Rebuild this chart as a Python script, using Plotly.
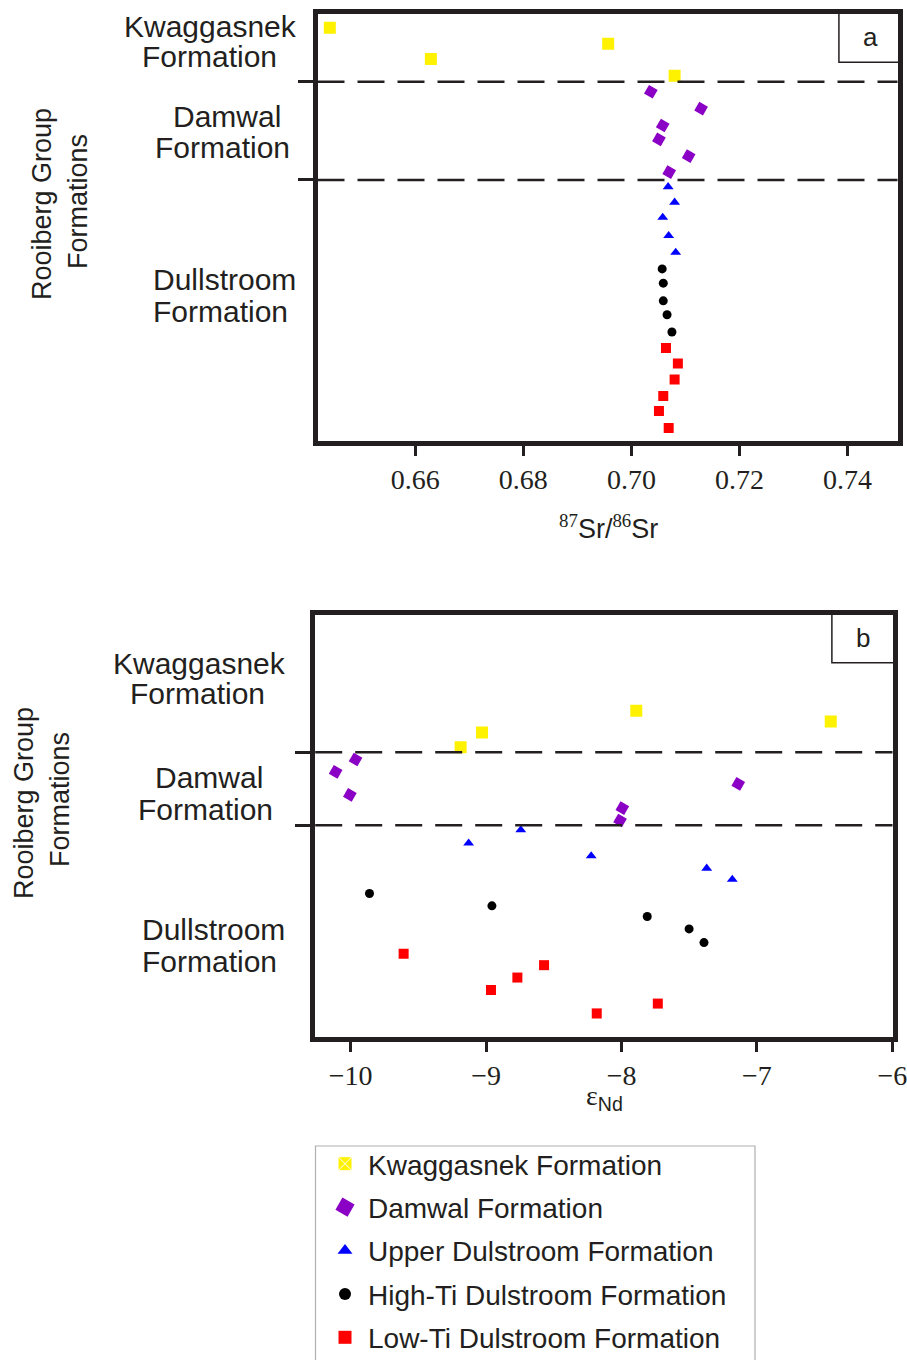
import plotly.graph_objects as go

W, H = 907, 1360
INK = "#231f20"
SANS = "Liberation Sans, Arial, sans-serif"
SERIF = "Liberation Serif, Times New Roman, serif"

# ---------------- panel a : 87Sr/86Sr vs. relative stratigraphic position ----------------
sr_kwa = [0.6442, 0.6629, 0.6957, 0.7080]
pos_a_kwa = [96.1, 88.9, 92.4, 85.0]
sr_dam = [0.7036, 0.7129, 0.7058, 0.7051, 0.7106, 0.7070]
pos_a_dam = [81.3, 77.4, 73.5, 70.3, 66.4, 62.7]
sr_upd = [0.7068, 0.7080, 0.7058, 0.7069, 0.7082]
pos_a_upd = [59.3, 55.7, 52.2, 48.0, 44.1]
sr_hti = [0.7057, 0.7059, 0.7059, 0.7066, 0.7075]
pos_a_hti = [40.3, 37.0, 32.9, 29.7, 25.7]
sr_lti = [0.7064, 0.7086, 0.7080, 0.7059, 0.7051, 0.7069]
pos_a_lti = [22.0, 18.4, 14.7, 10.9, 7.4, 3.5]
bounds_a = [83.6, 60.9]          # Kwaggasnek/Damwal and Damwal/Dullstroom contacts
ticks_a = [0.66, 0.68, 0.70, 0.72, 0.74]

# ---------------- panel b : eNd vs. relative stratigraphic position ----------------
nd_kwa = [-9.188, -9.030, -7.891, -6.455]
pos_b_kwa = [68.4, 71.8, 76.9, 74.4]
nd_dam = [-9.964, -10.111, -10.006, -7.994, -8.011, -7.138]
pos_b_dam = [65.5, 62.6, 57.2, 54.1, 51.2, 59.8]
nd_upd = [-9.129, -8.744, -8.224, -7.371, -7.182]
pos_b_upd = [45.9, 49.0, 42.9, 40.0, 37.4]
nd_hti = [-9.861, -8.957, -7.810, -7.501, -7.391]
pos_b_hti = [34.1, 31.2, 28.7, 25.8, 22.6]
nd_lti = [-9.609, -8.964, -8.769, -8.572, -8.183, -7.732]
pos_b_lti = [20.0, 11.5, 14.4, 17.3, 6.0, 8.3]
bounds_b = [67.2, 50.1]
ticks_b = [-10, -9, -8, -7, -6]

series_names = ["Kwaggasnek Formation", "Damwal Formation", "Upper Dulstroom Formation",
                "High-Ti Dulstroom Formation", "Low-Ti Dulstroom Formation"]
formation_labels = [("Kwaggasnek", "Formation"), ("Damwal", "Formation"), ("Dullstroom", "Formation")]

colors = ["#fff200", "#8a00c4", "#0000ff", "#000000", "#ff0000"]
symbols = ["square", "square", "triangle-up", "circle", "square"]
angles = [0, 30, 0, 0, 0]
sizes = [12, 10, 9.5, 9, 10]

panel_a = [(sr_kwa, pos_a_kwa), (sr_dam, pos_a_dam), (sr_upd, pos_a_upd),
           (sr_hti, pos_a_hti), (sr_lti, pos_a_lti)]
panel_b = [(nd_kwa, pos_b_kwa), (nd_dam, pos_b_dam), (nd_upd, pos_b_upd),
           (nd_hti, pos_b_hti), (nd_lti, pos_b_lti)]


def px(x):
    return x / W


def py(y):
    return 1 - y / H


fig = go.Figure()

for i, name in enumerate(series_names):
    mk = dict(color=colors[i], symbol=symbols[i], size=sizes[i], angle=angles[i], line=dict(width=0))
    xa, ya = panel_a[i]
    fig.add_trace(go.Scatter(x=xa, y=ya, mode="markers", marker=mk, name=name,
                             showlegend=False, xaxis="x", yaxis="y", hoverinfo="skip"))
    xb, yb = panel_b[i]
    fig.add_trace(go.Scatter(x=xb, y=yb, mode="markers", marker=mk, name=name,
                             showlegend=False, xaxis="x2", yaxis="y2", hoverinfo="skip"))

# legend keys
legend_markers = [
    dict(color=colors[0], symbol="square-x", size=14, line=dict(color="white", width=1)),
    dict(color=colors[1], symbol="square", size=14, angle=30, line=dict(width=0)),
    dict(color=colors[2], symbol="triangle-up", size=13, line=dict(width=0)),
    dict(color=colors[3], symbol="circle", size=12, line=dict(width=0)),
    dict(color=colors[4], symbol="square", size=13, line=dict(width=0)),
]
for i, name in enumerate(series_names):
    fig.add_trace(go.Scatter(x=[None], y=[None], mode="markers", marker=legend_markers[i],
                             name=name, legendgroup=f"g{i}", showlegend=True,
                             xaxis="x", yaxis="y"))

# plot-area geometry (pixels)
A = dict(l=317.5, r=897.5, t=13.5, b=440.5)
B = dict(l=315.2, r=892.5, t=614.8, b=1036.5)

frame = dict(showline=True, linecolor=INK, linewidth=5, mirror=True, showgrid=False,
             zeroline=False)

fig.update_layout(
    width=W, height=H,
    margin=dict(l=0, r=0, t=0, b=0, autoexpand=False),
    paper_bgcolor="white", plot_bgcolor="white",
    font=dict(family=SANS, color=INK),
    xaxis=dict(domain=[px(A["l"]), px(A["r"])], range=[0.64192, 0.74924],
               tickvals=ticks_a, tickformat=".2f", ticks="outside", ticklen=10,
               tickwidth=2.5, tickcolor=INK, ticklabelstandoff=0,
               tickfont=dict(family=SERIF, size=28, color=INK), anchor="y", **frame),
    yaxis=dict(domain=[py(A["b"]), py(A["t"])], range=[0.579, 99.42],
               tickvals=bounds_a, ticks="outside", ticklen=15, tickwidth=2.5,
               tickcolor=INK, showticklabels=False, anchor="x", **frame),
    xaxis2=dict(domain=[px(B["l"]), px(B["r"])], range=[-10.262, -5.999],
                tickvals=ticks_b, tickformat="d", ticks="outside", ticklen=10,
                tickwidth=2.5, tickcolor=INK, ticklabelstandoff=0,
                ticklabeloverflow="allow",
                tickfont=dict(family=SERIF, size=28, color=INK), anchor="y2", **frame),
    yaxis2=dict(domain=[py(B["b"]), py(B["t"])], range=[0.586, 99.41],
                tickvals=bounds_b, ticks="outside", ticklen=15, tickwidth=2.5,
                tickcolor=INK, showticklabels=False, anchor="x2", **frame),
    legend=dict(x=px(322), y=py(1139), xanchor="left", yanchor="top",
                borderwidth=0, bgcolor="rgba(0,0,0,0)",
                font=dict(family=SANS, size=28, color=INK), tracegroupgap=4,
                itemwidth=36, itemsizing="trace"),
)

shapes = []
for ax, bounds in (("", bounds_a), ("2", bounds_b)):
    for yv in bounds:
        shapes.append(dict(type="line", xref=f"x{ax} domain", yref=f"y{ax}",
                           x0=0, x1=1, y0=yv, y1=yv,
                           line=dict(color=INK, width=2.5, dash="27px,13px")))
# panel letter boxes
shapes.append(dict(type="rect", xref="x domain", yref="y domain",
                   x0=0.899, x1=1.004, y0=0.886, y1=1.004,
                   line=dict(color=INK, width=1.5)))
shapes.append(dict(type="rect", xref="x2 domain", yref="y2 domain",
                   x0=0.895, x1=1.004, y0=0.886, y1=1.004,
                   line=dict(color=INK, width=1.5)))
# legend frame (runs off the bottom edge)
shapes.append(dict(type="rect", xref="paper", yref="paper",
                   x0=px(315.5), x1=px(755), y0=py(1146), y1=py(1375),
                   line=dict(color="#b0b0b0", width=1.2)))
fig.update_layout(shapes=shapes)

ann = []


def text(x, y, s, size=30, family=SANS, angle=0):
    ann.append(dict(x=px(x), y=py(y), xref="paper", yref="paper", text=s, showarrow=False,
                    xanchor="center", yanchor="middle", textangle=angle,
                    font=dict(family=family, size=size, color=INK)))


# formation labels beside each panel
lab_a = [((210.5, 24.2), (209, 55)), ((226.7, 114), (222.8, 145.3)), ((224, 278), (220, 309.5))]
lab_b = [((199.2, 661.0), (197.5, 691.0)), ((209.2, 775.0), (205.8, 807.0)), ((213, 927.0), (209.2, 959.0))]
for pos_set in (lab_a, lab_b):
    for (l1, l2), (t1, t2) in zip(pos_set, formation_labels):
        text(l1[0], l1[1] + 2, t1)
        text(l2[0], l2[1] + 2, t2)

# vertical group titles
text(42, 204, "Rooiberg Group", size=27, angle=-90)
text(78, 202, "Formations", size=27, angle=-90)
text(24, 803, "Rooiberg Group", size=27, angle=-90)
text(60, 800, "Formations", size=27, angle=-90)

# panel letters
text(870, 37, "a", size=26)
text(863, 638, "b", size=26)

# axis titles
text(608, 527, '<sup><span style="font-family:Liberation Serif">87</span></sup>Sr/'
               '<sup><span style="font-family:Liberation Serif">86</span></sup>Sr', size=27)
text(604, 1097, '<span style="font-family:Liberation Serif">ε</span><sub>Nd</sub>', size=28)

fig.update_layout(annotations=ann)

fig.write_html("out.html")
